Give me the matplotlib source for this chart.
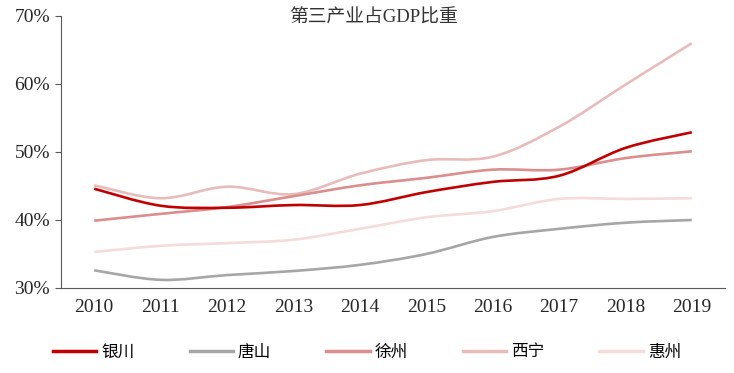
import matplotlib
matplotlib.use("Agg")
import matplotlib.pyplot as plt
import numpy as np
from matplotlib.path import Path
from matplotlib.patches import PathPatch
from matplotlib.lines import Line2D
from matplotlib.ticker import FuncFormatter

years = [2010, 2011, 2012, 2013, 2014, 2015, 2016, 2017, 2018, 2019]
yinchuan = [44.6, 42.1, 41.8, 42.2, 42.2, 44.1, 45.6, 46.5, 50.6, 52.9]
tangshan = [32.6, 31.2, 31.9, 32.5, 33.4, 35.0, 37.5, 38.7, 39.6, 40.0]
xuzhou = [39.9, 40.9, 41.9, 43.5, 45.1, 46.2, 47.4, 47.4, 49.1, 50.1]
xining = [45.1, 43.2, 44.9, 43.8, 46.8, 48.8, 49.3, 53.7, 59.9, 66.0]
huizhou = [35.3, 36.2, 36.6, 37.1, 38.7, 40.4, 41.3, 43.1, 43.1, 43.2]

names = ["银川", "唐山", "徐州", "西宁", "惠州"]
colors = ["#C00000", "#A6A6A6", "#DA8E8E", "#E8BCBB", "#F3DCDB"]

SERIF = ["Liberation Serif", "Noto Sans CJK SC"]
plt.rcParams["font.family"] = SERIF


def smooth_path(xs, ys, t=1 / 6):
    # Excel-like smoothed line via cubic bezier segments
    pts = np.column_stack([xs, ys]).astype(float)
    n = len(pts)
    verts = [pts[0]]
    codes = [Path.MOVETO]
    for i in range(n - 1):
        p0 = pts[i - 1] if i > 0 else pts[i]
        p1 = pts[i]
        p2 = pts[i + 1]
        p3 = pts[i + 2] if i + 2 < n else pts[i + 1]
        c1 = p1 + (p2 - p0) * t
        c2 = p2 - (p3 - p1) * t
        verts += [c1, c2, p2]
        codes += [Path.CURVE4] * 3
    return Path(verts, codes)


fig = plt.figure(figsize=(7.34, 3.73), dpi=100)
ax = fig.add_axes([61 / 734, 1 - 288 / 373, (725 - 61) / 734, (288 - 16) / 373])

x = np.arange(len(years))
series = [yinchuan, tangshan, xuzhou, xining, huizhou]
# draw lighter ones first, dark red on top
order = [4, 3, 1, 2, 0]
for i in order:
    patch = PathPatch(smooth_path(x, series[i]), facecolor="none",
                      edgecolor=colors[i], lw=1.9, capstyle="butt",
                      joinstyle="round", zorder=3)
    ax.add_patch(patch)

ax.set_xlim(-0.5, len(years) - 0.5)
ax.set_ylim(30, 70)
ax.set_yticks([30, 40, 50, 60, 70])
ax.yaxis.set_major_formatter(FuncFormatter(lambda v, p: f"{v:.0f}%"))
ax.set_xticks(x)
ax.set_xticklabels([str(y) for y in years])

for s in ["top", "right"]:
    ax.spines[s].set_visible(False)
ax.spines["left"].set_color("#595959")
ax.spines["bottom"].set_color("#595959")
ax.tick_params(axis="y", direction="out", length=4, color="#595959",
               labelsize=14, labelcolor="#262626", pad=4)
ax.tick_params(axis="x", length=0, labelsize=14, labelcolor="#262626", pad=8)

fig.text(373 / 734, 1 - 18 / 373, "第三产业占GDP比重",
         ha="center", va="center", fontsize=13.5, color="#333333")

handles = [Line2D([], [], color=c, lw=2.5) for c in colors]
fig.legend(handles, names, loc="center", bbox_to_anchor=(0.5, 0.055),
           ncol=5, frameon=False, fontsize=12, handlelength=2.6,
           handletextpad=0.3, columnspacing=3.3)

fig.savefig("out.png", dpi=100)
